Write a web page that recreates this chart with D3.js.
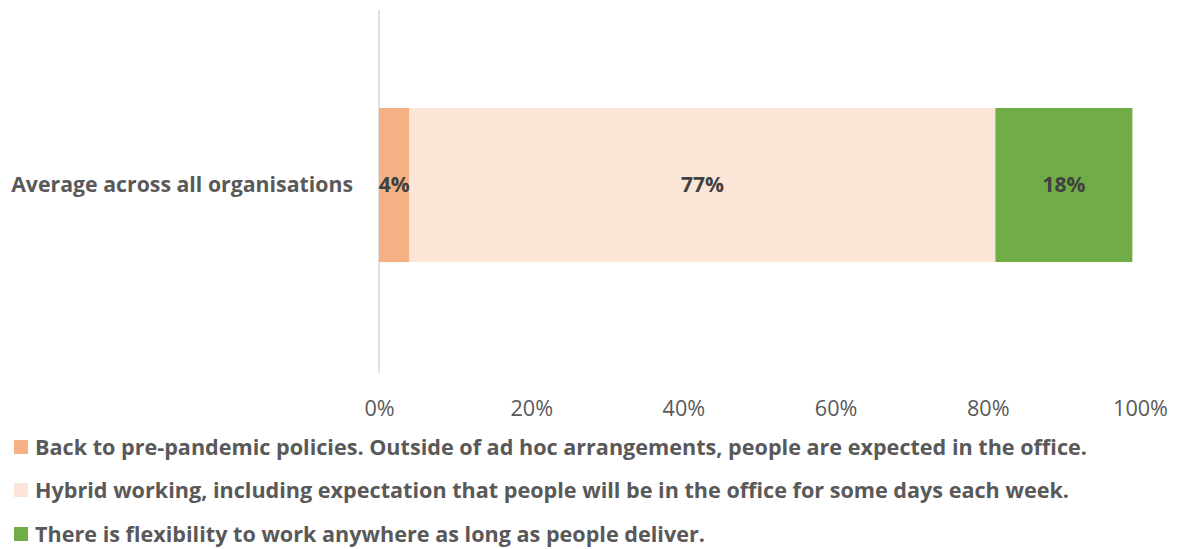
<!DOCTYPE html>
<html>
<head>
<meta charset="utf-8">
<script src="https://cdn.jsdelivr.net/npm/d3@7"></script>
<style>
  html, body { margin: 0; padding: 0; background: #fff; }
  svg { display: block; font-family: "Open Sans", sans-serif; }
</style>
</head>
<body>
<svg id="chart" width="1178" height="549"></svg>
<script>
// Share of organisations by working policy
const categories = ["Average across all organisations"];
const seriesNames = [
  "Back to pre-pandemic policies. Outside of ad hoc arrangements, people are expected in the office.",
  "Hybrid working, including expectation that people will be in the office for some days each week.",
  "There is flexibility to work anywhere as long as people deliver."
];
const seriesValues = [4, 77, 18];
const seriesColors = ["#F4B183", "#FBE5D6", "#70AD47"];
const tickValues = [0, 20, 40, 60, 80, 100];

const svg = d3.select("#chart");
const plot = { left: 379, right: 1140, top: 10, bottom: 373 };

// Scale a text element's font size so that it spans the wanted width
function fitWidth(sel, width) {
  sel.each(function () {
    const base = parseFloat(this.getAttribute("font-size"));
    const w = this.getComputedTextLength();
    if (w > 0) this.setAttribute("font-size", (base * width / w).toFixed(2));
  });
}

const x = d3.scaleLinear().domain([0, 100]).range([plot.left, plot.right]);
const y = d3.scaleBand().domain(categories).range([plot.top, 360]).paddingInner(0).paddingOuter(0.636);

// Vertical category axis line
svg.append("line")
  .attr("x1", x(0)).attr("x2", x(0))
  .attr("y1", plot.top).attr("y2", plot.bottom)
  .attr("stroke", "#d9d9d9").attr("stroke-width", 1.5);

// Stacked segments
let acc = 0;
const stacked = seriesValues.map((v, i) => {
  const s = { start: acc, end: acc + v, value: v, color: seriesColors[i] };
  acc += v;
  return s;
});

const cat = categories[0];
const cy = y(cat) + y.bandwidth() / 2;

svg.selectAll("rect.seg").data(stacked).enter().append("rect")
  .attr("class", "seg")
  .attr("x", d => x(d.start))
  .attr("width", d => x(d.end) - x(d.start))
  .attr("y", y(cat))
  .attr("height", y.bandwidth())
  .attr("fill", d => d.color);

const vals = svg.selectAll("text.val").data(stacked).enter().append("text")
  .attr("class", "val")
  .attr("x", d => (x(d.start) + x(d.end)) / 2)
  .attr("y", cy)
  .attr("dy", "0.35em")
  .attr("text-anchor", "middle")
  .attr("font-weight", "bold")
  .attr("font-size", 18)
  .attr("fill", "#404040")
  .text(d => d.value + "%");
// size all value labels from the two-digit one
{
  const probe = vals.filter((d, i) => i === 2);
  fitWidth(probe, 43);
  const fs = probe.attr("font-size");
  vals.attr("font-size", fs);
}

// Category label
const catLabel = svg.append("text")
  .attr("x", 353)
  .attr("y", cy)
  .attr("dy", "0.35em")
  .attr("text-anchor", "end")
  .attr("font-weight", "bold")
  .attr("font-size", 18)
  .attr("fill", "#595959")
  .text(cat);
fitWidth(catLabel, 342);

// X axis tick labels
const xAxis = d3.axisBottom(x).tickValues(tickValues).tickFormat(d => d + "%").tickSize(0).tickPadding(0);
const gx = svg.append("g").attr("transform", "translate(0, 408)").call(xAxis);
gx.select(".domain").remove();
gx.selectAll("text")
  .attr("dy", "0.35em").attr("y", 0)
  .attr("font-size", 18)
  .attr("font-family", "'Open Sans', sans-serif")
  .attr("fill", "#595959");
{
  const last = gx.selectAll("text").filter(d => d === 100);
  fitWidth(last, 55);
  gx.selectAll("text").attr("font-size", last.attr("font-size"));
}

// Legend
const legendY = [447, 490, 534];
const lg = svg.selectAll("g.legend").data(seriesNames).enter().append("g")
  .attr("class", "legend")
  .attr("transform", (d, i) => `translate(14, ${legendY[i]})`);
lg.append("rect")
  .attr("x", 0).attr("y", -7).attr("width", 14).attr("height", 14)
  .attr("fill", (d, i) => seriesColors[i]);
const lgText = lg.append("text")
  .attr("x", 21).attr("y", 0).attr("dy", "0.35em")
  .attr("font-weight", "bold")
  .attr("font-size", 18)
  .attr("fill", "#595959")
  .text(d => d);
{
  const first = lgText.filter((d, i) => i === 0);
  fitWidth(first, 1052);
  lgText.attr("font-size", first.attr("font-size"));
}
</script>
</body>
</html>
